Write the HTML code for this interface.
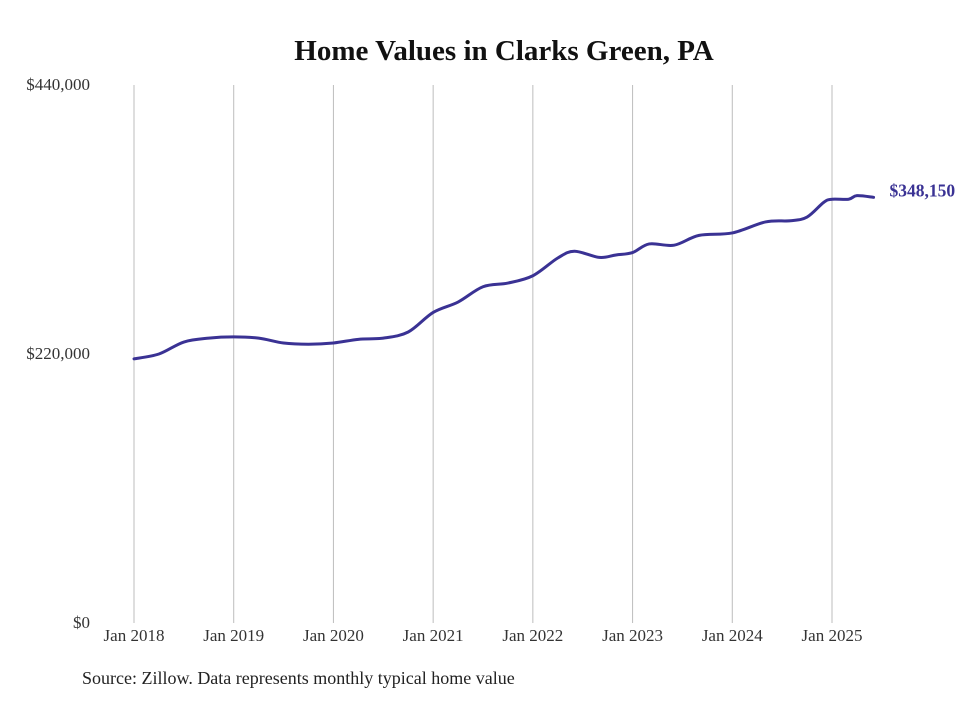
<!DOCTYPE html>
<html><head><meta charset="utf-8"><style>
body{margin:0;background:#fff;width:980px;height:699px;overflow:hidden}
svg text{font-family:"Liberation Serif","DejaVu Serif",serif}
</style></head><body>
<svg width="980" height="699">
<text x="504" y="60" text-anchor="middle" font-size="29" font-weight="bold" fill="#111">Home Values in Clarks Green, PA</text>
<g id="grid"></g><g id="yt"></g><g id="xt"></g>
<path id="line" fill="none" stroke="#3a3294" stroke-width="3" stroke-linejoin="round" stroke-linecap="round"></path>
<text id="endlbl" font-size="17.5" font-weight="bold" fill="#3a3294"></text>
<text x="82" y="684" font-size="18" fill="#222">Source: Zillow. Data represents monthly typical home value</text>
</svg>
<script>
const months=[0,3,6,9,12,15,18,21,24,27,30,33,36,39,42,45,48,51,53,56,58,60,62,65,68,72,76,79,81,83,84,86,87,89];
const values=[216000,220000,229800,233000,234000,233000,229000,228000,229000,232000,233000,238000,254000,262500,275000,278000,284000,298500,304000,299000,301000,303000,310000,309000,317000,319000,328000,329000,332000,344000,346600,346600,349500,348150];
const xYears=[2018,2019,2020,2021,2022,2023,2024,2025];
const yTicks=[0,220000,440000];
const endLabel="$348,150";
const X=m=>134+m*(698/84);
const Y=v=>623-v/440000*538;
const ns="http://www.w3.org/2000/svg";
const g=document.getElementById('grid'),yt=document.getElementById('yt'),xt=document.getElementById('xt');
xYears.forEach((yr,i)=>{
 const l=document.createElementNS(ns,'line');
 l.setAttribute('x1',X(i*12));l.setAttribute('x2',X(i*12));l.setAttribute('y1',85);l.setAttribute('y2',623);
 l.setAttribute('stroke','#bdbdbd');l.setAttribute('stroke-width','1');
 
 
 g.appendChild(l);
 const t=document.createElementNS(ns,'text');
 t.setAttribute('x',X(i*12));t.setAttribute('y',641);t.setAttribute('text-anchor','middle');t.setAttribute('font-size','17');t.setAttribute('fill','#333');
 t.textContent='Jan '+yr;
 
 
 xt.appendChild(t);
});
yTicks.forEach(v=>{
 const t=document.createElementNS(ns,'text');
 t.setAttribute('x',90);t.setAttribute('y',Y(v)+5);t.setAttribute('text-anchor','end');t.setAttribute('font-size','17');t.setAttribute('fill','#333');
 t.textContent='$'+v.toLocaleString('en-US');
 
 
 yt.appendChild(t);
});
const pts=months.map((m,i)=>[X(m),Y(values[i])]);
let d='M'+pts[0][0]+','+pts[0][1];
for(let i=0;i<pts.length-1;i++){
 const p0=pts[Math.max(0,i-1)],p1=pts[i],p2=pts[i+1],p3=pts[Math.min(pts.length-1,i+2)];
 const c1=[p1[0]+(p2[0]-p0[0])/6,p1[1]+(p2[1]-p0[1])/6],c2=[p2[0]-(p3[0]-p1[0])/6,p2[1]-(p3[1]-p1[1])/6];
 d+=` C${c1[0]},${c1[1]} ${c2[0]},${c2[1]} ${p2[0]},${p2[1]}`;
}
document.getElementById('line').setAttribute('d',d);
const last=pts[pts.length-1];
const el=document.getElementById('endlbl');
el.setAttribute('x',last[0]+16);el.setAttribute('y',last[1]-1);el.textContent=endLabel;
</script>
</body></html>
